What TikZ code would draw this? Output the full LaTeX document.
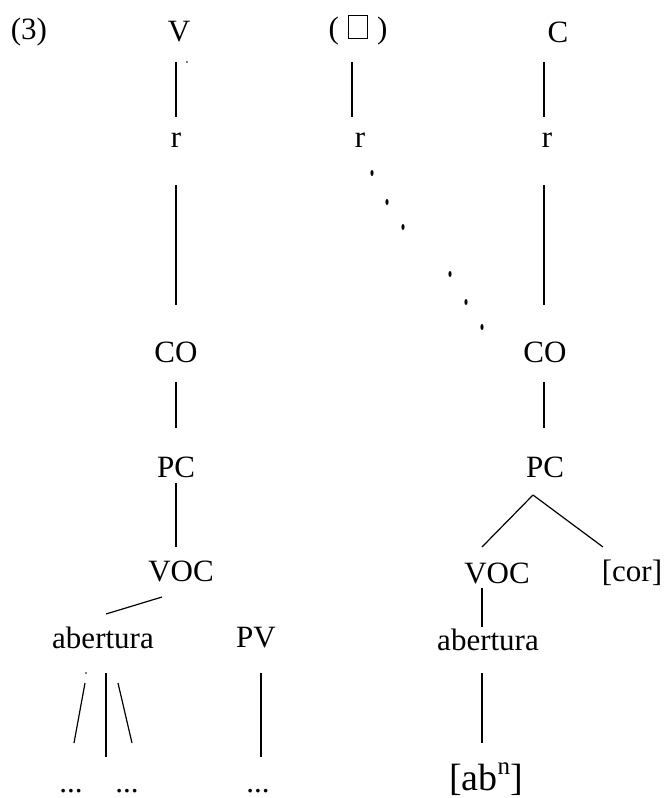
\documentclass[tikz,border=0pt]{standalone}
\usepackage{fontspec}
\setmainfont{Liberation Serif}
\begin{document}
\begin{tikzpicture}[x=1pt,y=-1pt,
  lbl/.style={inner sep=0pt,font=\fontsize{31pt}{37pt}\selectfont},
  edge/.style={line width=1.2pt},
  speck/.style={fill=black}]
\useasboundingbox (0,0) rectangle (665,798);
% labels
\node[lbl] (n3) at (29,32) {(3)};
\node[lbl] (V) at (179,32) {V};
\node[lbl] (P) at (358,30) {(\hspace{9pt}{\setlength{\fboxsep}{0pt}\setlength{\fboxrule}{1pt}\raisebox{0.5pt}{\fbox{\rule{0pt}{22pt}\rule{18pt}{0pt}}}}\hspace{9pt})};
\node[lbl] (C) at (558,32) {C};
\node[lbl] (rL) at (176,140) {r};
\node[lbl] (rM) at (360,140) {r};
\node[lbl] (rR) at (547,140) {r};
\node[lbl] (COL) at (176,352) {CO};
\node[lbl] (COR) at (545,352) {CO};
\node[lbl] (PCL) at (176,467) {PC};
\node[lbl] (PCR) at (545,467) {PC};
\node[lbl] (VOCL) at (181,571) {VOC};
\node[lbl] (VOCR) at (497,573) {VOC};
\node[lbl] (cor) at (632,573) {[cor]};
\node[lbl] (abL) at (103,638) {abertura};
\node[lbl] (PV) at (256,638) {PV};
\node[lbl] (abR) at (488,640) {abertura};
\node[lbl,anchor=base] (d1) at (71,792) {...};
\node[lbl,anchor=base] (d2) at (127,792) {...};
\node[lbl,anchor=base] (d3) at (258,792) {...};
\node[lbl,font=\fontsize{38pt}{44pt}\selectfont,anchor=base] (abn) at (486,790) {[ab\raisebox{0.42em}{\fontsize{25pt}{30pt}\selectfont n}]};
\coordinate (midend) at (106,757);
% connectors
\draw[edge] ([xshift=-3pt,yshift=-30pt]V.center) -- ([yshift=23pt]rL.center);
\draw[edge] ([xshift=-6pt,yshift=-32pt]P.center) -- ([xshift=-8pt,yshift=23pt]rM.center);
\draw[edge] ([xshift=-14pt,yshift=-30pt]C.center) -- ([xshift=-3pt,yshift=23pt]rR.center);
\draw[edge] ([yshift=-45pt]rL.center) -- ([yshift=47pt]COL.center);
\draw[edge] ([xshift=-3pt,yshift=-45pt]rR.center) -- ([xshift=-1pt,yshift=47pt]COR.center);
\draw[edge] ([yshift=-30pt]COL.center) -- ([yshift=39pt]PCL.center);
\draw[edge] ([xshift=-1pt,yshift=-30pt]COR.center) -- ([xshift=-1pt,yshift=39pt]PCR.center);
\draw[edge] ([yshift=-16pt]PCL.center) -- ([xshift=-5pt,yshift=24pt]VOCL.center);
\draw[edge] ([xshift=-19pt,yshift=-26pt]VOCL.center) -- ([xshift=3pt,yshift=24pt]abL.center);
\draw[edge] ([xshift=-18pt,yshift=-45pt]abL.center) -- ([xshift=3pt,yshift=49pt]d1.base);
\draw[edge] ([xshift=3pt,yshift=-35pt]abL.center) -- (midend);
\draw[edge] ([xshift=15pt,yshift=-45pt]abL.center) -- ([xshift=5pt,yshift=49pt]d2.base);
\draw[edge] ([xshift=5pt,yshift=-35pt]PV.center) -- ([xshift=3pt,yshift=35pt]d3.base);
\draw[edge] ([xshift=-12pt,yshift=-28pt]PCR.center) -- ([xshift=-15pt,yshift=26pt]VOCR.center);
\draw[edge] ([xshift=-12pt,yshift=-28pt]PCR.center) -- ([xshift=-29pt,yshift=26pt]cor.center);
\draw[edge] ([xshift=-15pt,yshift=-15pt]VOCR.center) -- ([xshift=-6pt,yshift=13pt]abR.center);
\draw[edge] ([xshift=-6pt,yshift=-33pt]abR.center) -- ([xshift=-4pt,yshift=47pt]abn.base);
% dotted association
\foreach \p in {(372,173),(387,202),(403,227),(450,274),(466,302),(482,327)}
  \fill \p ellipse [x radius=1.6pt, y radius=3pt];
% specks
\fill[speck] (187,62) circle [radius=0.9pt];
\fill[speck] (86,673) circle [radius=0.9pt];
\end{tikzpicture}
\end{document}
